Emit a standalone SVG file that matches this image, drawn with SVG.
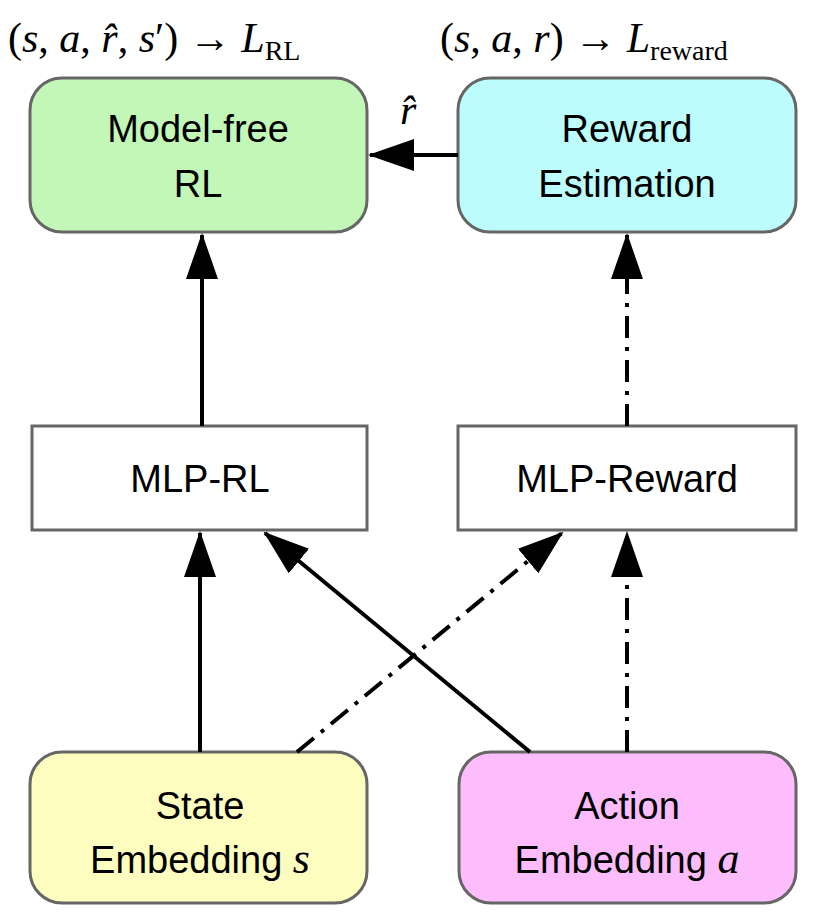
<svg xmlns="http://www.w3.org/2000/svg" width="830" height="916" viewBox="0 0 830 916">
<style>
.n{stroke:#666;stroke-width:3}
.t{font-family:"Liberation Sans",Arial,sans-serif;font-size:38px;text-anchor:middle;fill:#000}
.m{font-family:"Liberation Serif","Times New Roman",serif;font-size:42px;fill:#000}
.c{stroke:#000;stroke-width:4;fill:none}
.d{stroke-dasharray:22,9,4,9}
</style>
<defs>
<marker id="a" markerUnits="userSpaceOnUse" markerWidth="46" markerHeight="32" refX="44" refY="16" orient="auto">
<path d="M0,0 L46,16 L0,32 Z" fill="#000"/>
</marker>
</defs>
<rect width="830" height="916" fill="#fff"/>
<text class="m" x="8" y="52">(<tspan font-style="italic">s</tspan>, <tspan font-style="italic">a</tspan>, <tspan font-style="italic">r̂</tspan>, <tspan font-style="italic">s</tspan>′) → <tspan font-style="italic">L</tspan><tspan font-size="28" dy="8">RL</tspan></text>
<text class="m" x="440" y="52">(<tspan font-style="italic">s</tspan>, <tspan font-style="italic">a</tspan>, <tspan font-style="italic">r</tspan>) → <tspan font-style="italic">L</tspan><tspan font-size="28" dy="8">reward</tspan></text>
<text class="m" x="400" y="124" font-style="italic">r̂</text>
<g id="modelfree"><rect class="n" x="30" y="78" width="337" height="154" rx="32" fill="#c2f7b8"/><text class="t" x="198" y="142">Model-free</text><text class="t" x="198" y="197">RL</text></g>
<g id="reward"><rect class="n" x="458" y="78" width="338" height="154" rx="32" fill="#bcfcfc"/><text class="t" x="627" y="142">Reward</text><text class="t" x="627" y="197">Estimation</text></g>
<g id="mlprl"><rect class="n" x="32" y="426" width="335" height="104" fill="#fff"/><text class="t" x="200" y="492">MLP-RL</text></g>
<g id="mlpreward"><rect class="n" x="458" y="426" width="338" height="104" fill="#fff"/><text class="t" x="627" y="492">MLP-Reward</text></g>
<g id="state"><rect class="n" x="30" y="752" width="337" height="151" rx="32" fill="#fdfdbf"/><text class="t" x="200" y="819">State</text><text class="t" x="200" y="873">Embedding <tspan font-family="Liberation Serif,serif" font-style="italic" font-size="44">s</tspan></text></g>
<g id="action"><rect class="n" x="459" y="752" width="337" height="151" rx="32" fill="#fdbdfd"/><text class="t" x="627" y="819">Action</text><text class="t" x="627" y="873">Embedding <tspan font-family="Liberation Serif,serif" font-style="italic" font-size="44">a</tspan></text></g>
<g id="connectors">
<line class="c" x1="458" y1="155" x2="370" y2="155" marker-end="url(#a)"/>
<line class="c" x1="202" y1="426" x2="202" y2="235" marker-end="url(#a)"/>
<line class="c d" x1="627" y1="426" x2="627" y2="235" marker-end="url(#a)"/>
<line class="c" x1="200" y1="752" x2="200" y2="533" marker-end="url(#a)"/>
<line class="c d" x1="627" y1="752" x2="627" y2="533" marker-end="url(#a)"/>
<line class="c d" x1="297" y1="752" x2="562" y2="533" marker-end="url(#a)"/>
<line class="c" x1="530" y1="752" x2="265" y2="533" marker-end="url(#a)"/>
</g>
</svg>
